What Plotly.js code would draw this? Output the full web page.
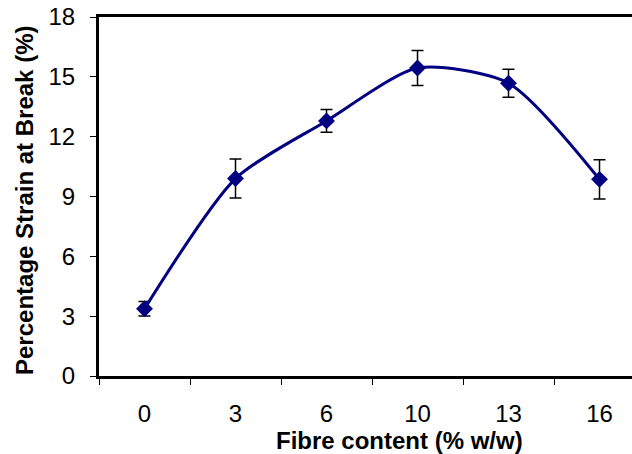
<!DOCTYPE html>
<html>
<head>
<meta charset="utf-8">
<script src="https://cdn.plot.ly/plotly-3.0.1.min.js"></script>
<style>html,body{margin:0;padding:0;background:#fff;}#chart{width:632px;height:454px;}</style>
</head>
<body>
<div id="chart"></div>
<script>
var fibreContent = ['0', '3', '6', '10', '13', '16'];
var strainAtBreak = [3.37, 9.9, 12.79, 15.44, 14.68, 9.86];
var strainError = [0.36, 0.98, 0.57, 0.88, 0.7, 0.98];
var yTicks = [0, 3, 6, 9, 12, 15, 18];
var xTitle = 'Fibre content (% w/w)';
var yTitle = 'Percentage Strain at Break (%)';

var trace = {
  x: fibreContent,
  y: strainAtBreak,
  type: 'scatter',
  mode: 'lines+markers',
  line: {color: '#000080', width: 3, shape: 'spline', smoothing: 0.7},
  marker: {symbol: 'diamond', size: 13, color: '#000080'},
  error_y: {type: 'data', array: strainError, visible: true, color: '#000000', thickness: 1.5, width: 6},
  showlegend: false,
  cliponaxis: false
};

var layout = {
  width: 632, height: 454,
  margin: {l: 99, r: 0, t: 17, b: 78, pad: 0},
  paper_bgcolor: '#ffffff', plot_bgcolor: '#ffffff',
  font: {family: '"Liberation Sans", Arial, sans-serif', color: '#000000', size: 24},
  xaxis: {
    type: 'category',
    range: [-0.5, 5.357],
    tickson: 'boundaries',
    ticks: 'outside', ticklen: 6, tickwidth: 1, tickcolor: '#000',
    showline: true, linewidth: 3, linecolor: '#000', mirror: true,
    showgrid: false, zeroline: false,
    tickfont: {size: 24},
    ticklabelstandoff: 14,
    fixedrange: true
  },
  yaxis: {
    range: [0, 18],
    tickvals: yTicks,
    ticktext: yTicks.map(String),
    ticks: 'outside', ticklen: 6, tickwidth: 1, tickcolor: '#000',
    showline: true, linewidth: 3, linecolor: '#000', mirror: false,
    showgrid: false, zeroline: false,
    tickfont: {size: 24},
    ticklabelstandoff: 10,
    fixedrange: true
  },
  annotations: [
    {text: '<b>' + xTitle + '</b>', xref: 'paper', yref: 'paper', x: 0.5629, y: -0.181,
     xanchor: 'center', yanchor: 'middle', showarrow: false, font: {size: 24}},
    {text: '<b>' + yTitle + '</b>', xref: 'paper', yref: 'paper', x: -0.1388, y: 0.4875,
     xanchor: 'center', yanchor: 'middle', textangle: -90, showarrow: false, font: {size: 24}}
  ]
};

Plotly.newPlot('chart', [trace], layout, {displayModeBar: false, staticPlot: true});
</script>
</body>
</html>
